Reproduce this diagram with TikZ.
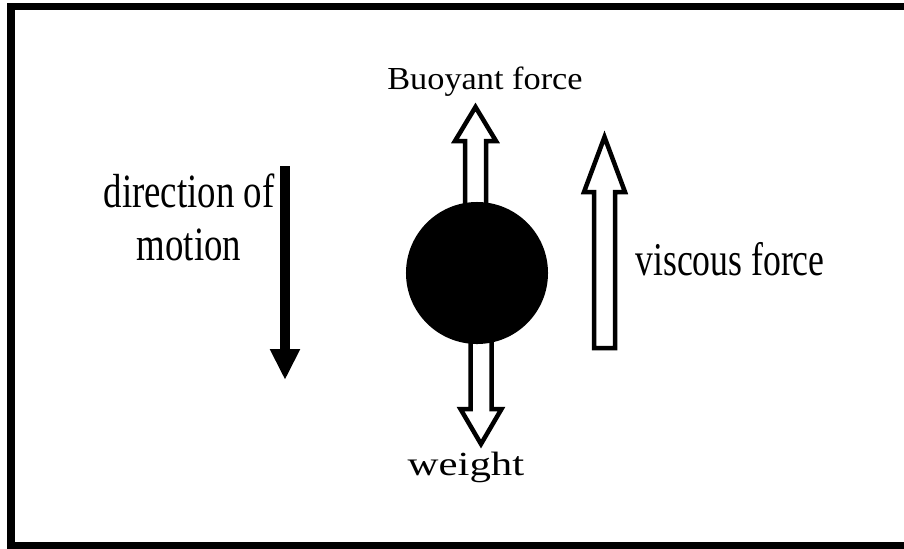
\documentclass[tikz,border=0pt]{standalone}
\usepackage{fontspec}
\setmainfont{Liberation Serif}
\usetikzlibrary{arrows.meta,positioning}

% hollow block arrow: centre x, tail y, head base y, tip y
\newcommand{\forcearrow}[4]{%
  \draw[blockarrow] (#1-10.5,#2) -- (#1-10.5,#3) -- (#1-20.5,#3) -- (#1,#4)
    -- (#1+20.5,#3) -- (#1+10.5,#3) -- (#1+10.5,#2) -- cycle;}

\begin{document}
\begin{tikzpicture}[x=0.025cm,y=-0.025cm,
    blockarrow/.style={draw=black,fill=white,line width=3.2pt,miter limit=4},
    ball/.style={circle,fill=black,inner sep=0pt,minimum size=101pt},
    label/.style={inner sep=0pt,anchor=base,align=center}]
  \useasboundingbox (0,0) rectangle (904,548);
  \fill[white] (0,0) rectangle (904,548);
  \draw[line width=5pt] (11,6.5) rectangle (912,545.5);

  % forces on the ball
  \forcearrow{475.5}{230}{141}{107}
  \forcearrow{481}{320}{409}{444}
  \forcearrow{604.5}{348}{192}{137}
  \node[ball] (ball) at (477,273) {};

  \node[label,xscale=1.07,font=\fontsize{22.8pt}{27pt}\selectfont] (buoy) at (485,89) {Buoyant force};
  \node[label,xscale=1.27,font=\fontsize{24pt}{28pt}\selectfont] (weight) at (466,475) {weight};
  \node[label,xscale=0.76,font=\fontsize{33.4pt}{37pt}\selectfont] (visc) at (730,275) {viscous force};
  \node[label,xscale=0.77,font=\fontsize{34pt}{37pt}\selectfont] (motion) at (189,260) {direction of\\motion};

  % direction of motion
  \coordinate (mtop) at (285,166);
  \coordinate (mtip) at (285,380);
  \draw[line width=7pt,-{Triangle[length=22pt,width=20pt]}] (mtop) -- (mtip);
\end{tikzpicture}
\end{document}
